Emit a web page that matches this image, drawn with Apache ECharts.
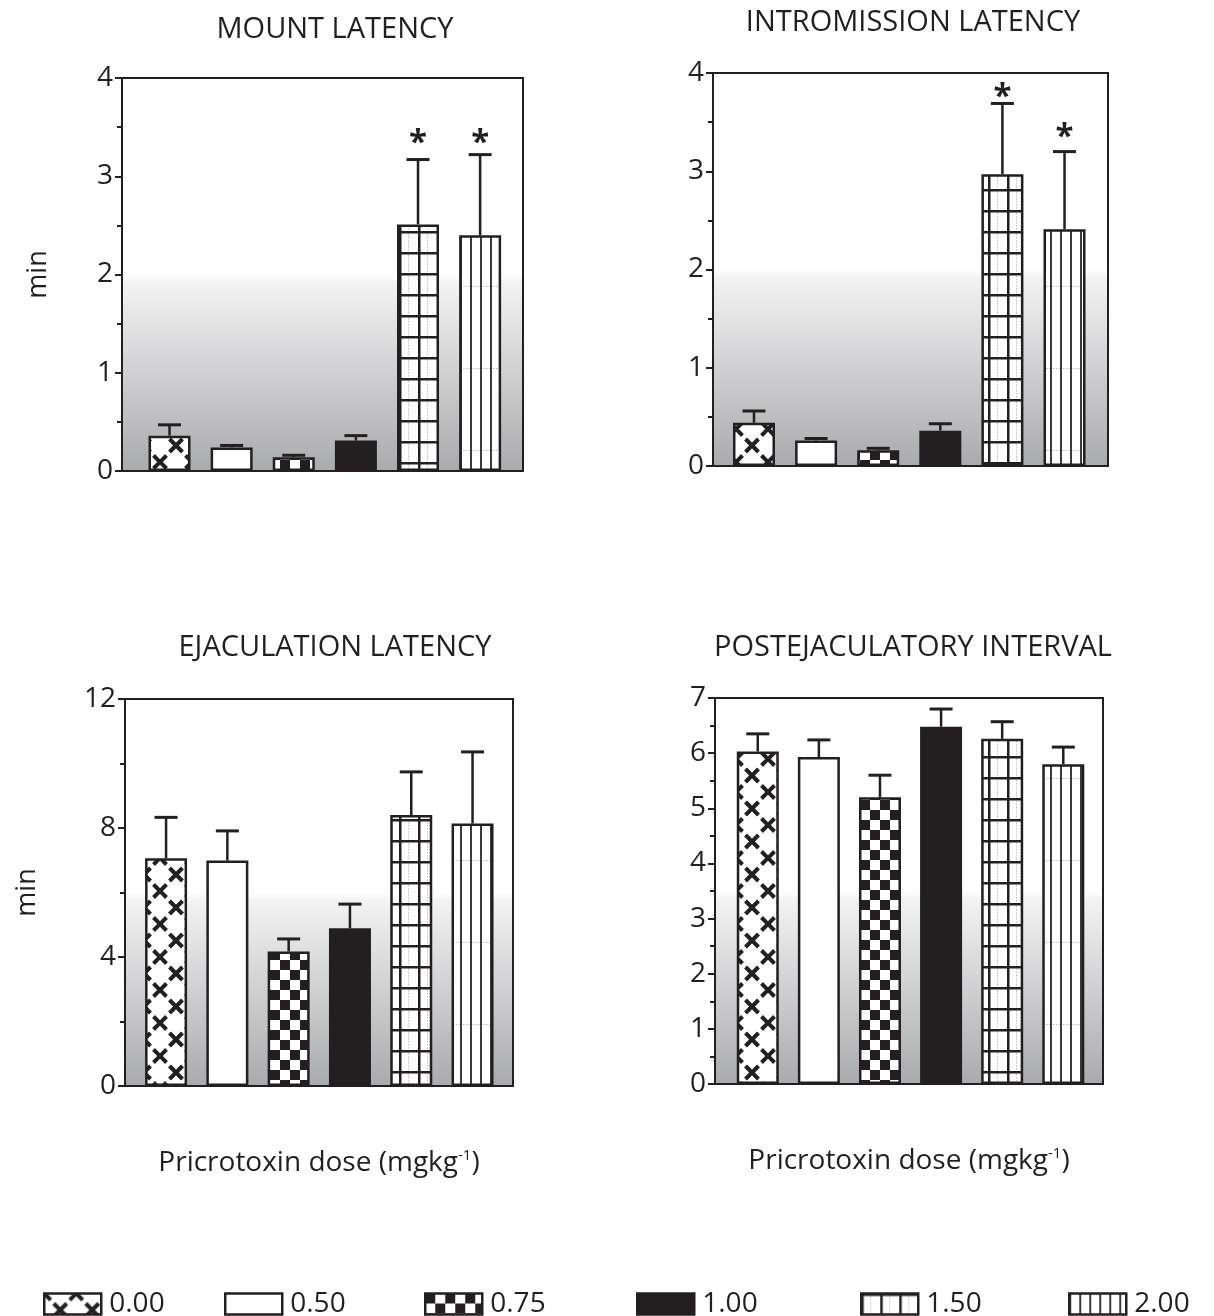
<!DOCTYPE html>
<html>
<head>
<meta charset="utf-8">
<script src="https://cdn.jsdelivr.net/npm/echarts@6.0.0/dist/echarts.min.js"></script>
<style>
  html, body { margin: 0; padding: 0; background: #fff; }
  #main { width: 1214px; height: 1316px; }
</style>
</head>
<body>
<div id="main"></div>
<script>
// picrotoxin doses (mg/kg)
var doses = ['0.00', '0.50', '0.75', '1.00', '1.50', '2.00'];

// mean latencies (min) and SEM
var mountMean = [0.36, 0.24, 0.14, 0.31, 2.51, 2.40];
var mountSem  = [0.11, 0.02, 0.02, 0.05, 0.66, 0.82];
var introMean = [0.44, 0.26, 0.16, 0.36, 2.97, 2.41];
var introSem  = [0.12, 0.02, 0.02, 0.07, 0.72, 0.79];
var ejacMean  = [7.06, 6.99, 4.17, 4.89, 8.40, 8.14];
var ejacSem   = [1.27, 0.92, 0.39, 0.75, 1.34, 2.22];
var peiMean   = [6.03, 5.93, 5.20, 6.48, 6.26, 5.80];
var peiSem    = [0.32, 0.31, 0.40, 0.32, 0.31, 0.31];

// significance marks (category index, height)
var mountStarX = [4, 5];
var mountStarY = [3.41, 3.41];
var introStarX = [4, 5];
var introStarY = [3.83, 3.42];

var INK = '#231f20';
var FONT = 'Open Sans';

function tile(w, h, draw) {
  var c = document.createElement('canvas');
  c.width = w; c.height = h;
  var ctx = c.getContext('2d');
  ctx.fillStyle = '#fff';
  ctx.fillRect(0, 0, w, h);
  draw(ctx, w, h);
  return { image: c, repeat: 'repeat' };
}

function drawX(ctx, cx, cy, r) {
  ctx.beginPath();
  ctx.moveTo(cx - r, cy - r); ctx.lineTo(cx + r, cy + r);
  ctx.moveTo(cx + r, cy - r); ctx.lineTo(cx - r, cy + r);
  ctx.stroke();
}

var patterns = [
  tile(32, 33, function (ctx, w, h) {
    ctx.strokeStyle = INK; ctx.lineWidth = 4;
    drawX(ctx, w / 2, h / 2, 6.5);
    drawX(ctx, 0, 0, 6.5); drawX(ctx, w, 0, 6.5);
    drawX(ctx, 0, h, 6.5); drawX(ctx, w, h, 6.5);
  }),
  '#ffffff',
  tile(20, 20, function (ctx) {
    ctx.fillStyle = INK;
    ctx.fillRect(0, 0, 10, 10);
    ctx.fillRect(10, 10, 10, 10);
  }),
  INK,
  tile(19, 21, function (ctx, w, h) {
    ctx.fillStyle = '#bbb';
    for (var y = 0; y < h; y += 3) ctx.fillRect(9, y, 1, 1.5);
    ctx.fillStyle = INK;
    ctx.fillRect(0, 0, 2.5, h);
    ctx.fillRect(0, 0, w, 2.5);
  }),
  tile(10, 82, function (ctx, w, h) {
    ctx.fillStyle = '#bbb';
    for (var x = 0; x < w; x += 3) ctx.fillRect(x, 40, 1.5, 1);
    ctx.fillStyle = '#3a3a3a';
    ctx.fillRect(0, 0, 2, h);
  })
];

var bgGradient = new echarts.graphic.LinearGradient(0, 0, 0, 1, [
  { offset: 0, color: '#ffffff' },
  { offset: 0.5, color: '#ffffff' },
  { offset: 0.52, color: '#f3f3f4' },
  { offset: 1, color: '#a9aaad' }
]);

var panels = [
  { title: 'MOUNT LATENCY', mean: mountMean, sem: mountSem, max: 4, interval: 1,
    grid: { left: 122, top: 78, width: 401, height: 393 }, xMin: -0.765, xMax: 5.69,
    titleX: 330, titleY: 10, yName: 'min', yNameGap: 70, xName: false,
    starX: mountStarX, starY: mountStarY },
  { title: 'INTROMISSION LATENCY', mean: introMean, sem: introSem, max: 4, interval: 1,
    grid: { left: 713, top: 73, width: 395, height: 393 }, xMin: -0.66, xMax: 5.70,
    titleX: 908, titleY: 3, yName: '', xName: false,
    starX: introStarX, starY: introStarY },
  { title: 'EJACULATION LATENCY', mean: ejacMean, sem: ejacSem, max: 12, interval: 4,
    grid: { left: 125, top: 699, width: 388, height: 387 }, xMin: -0.67, xMax: 5.66,
    titleX: 330, titleY: 628, yName: 'min', yNameGap: 84, xName: true,
    starX: [], starY: [] },
  { title: 'POSTEJACULATORY INTERVAL', mean: peiMean, sem: peiSem, max: 7, interval: 1,
    grid: { left: 715, top: 698, width: 388, height: 386 }, xMin: -0.70, xMax: 5.65,
    titleX: 908, titleY: 628, yName: '', xName: true,
    starX: [], starY: [] }
];

function makeErrRenderer(mean, sem) {
  return function (params, api) {
    var i = params.dataIndex;
    var base = api.coord([i, mean[i]]);
    var top = api.coord([i, mean[i] + sem[i]]);
    return {
      type: 'group',
      children: [
        { type: 'line', shape: { x1: base[0], y1: base[1], x2: top[0], y2: top[1] },
          style: { stroke: INK, lineWidth: 2.5 } },
        { type: 'line', shape: { x1: top[0] - 11.5, y1: top[1], x2: top[0] + 11.5, y2: top[1] },
          style: { stroke: INK, lineWidth: 3 } }
      ]
    };
  };
}

function renderStar(params, api) {
  var p = api.coord([api.value(0), api.value(1)]);
  return {
    type: 'text',
    style: { x: p[0], y: p[1] + 8, text: '*', fill: INK,
      font: 'bold 33px "' + FONT + '"', align: 'center', verticalAlign: 'middle' }
  };
}

var titles = [], grids = [], xAxes = [], yAxes = [], series = [];

panels.forEach(function (pn, p) {
  titles.push({
    text: pn.title, left: pn.titleX, top: pn.titleY, textAlign: 'center',
    textStyle: { fontFamily: FONT, fontSize: 29, fontWeight: 'normal', color: INK }
  });
  grids.push({
    left: pn.grid.left, top: pn.grid.top, width: pn.grid.width, height: pn.grid.height,
    show: true, backgroundColor: bgGradient, borderColor: INK, borderWidth: 2
  });
  xAxes.push({
    gridIndex: p, type: 'value', min: pn.xMin, max: pn.xMax,
    axisLine: { show: false, onZero: false }, axisTick: { show: false }, axisLabel: { show: false },
    splitLine: { show: false },
    name: pn.xName ? 'Pricrotoxin dose (mgkg{sup|-1})' : '',
    nameLocation: 'middle', nameGap: 62,
    nameTextStyle: {
      fontFamily: FONT, fontSize: 28, color: INK,
      rich: { sup: { fontFamily: FONT, fontSize: 15, color: INK, padding: [0, 0, 16, 0] } }
    }
  });
  yAxes.push({
    gridIndex: p, type: 'value', min: 0, max: pn.max, interval: pn.interval,
    name: pn.yName, nameLocation: 'middle', nameRotate: 90, nameGap: pn.yNameGap || 50,
    nameTextStyle: { fontFamily: FONT, fontSize: 27, color: INK },
    axisLine: { show: true, onZero: false, lineStyle: { color: INK, width: 2 } },
    axisTick: { show: true, length: 7, lineStyle: { color: INK, width: 2 } },
    minorTick: { show: true, splitNumber: 2, length: 5, lineStyle: { color: INK, width: 2 } },
    splitLine: { show: false },
    axisLabel: { fontFamily: FONT, fontSize: 28, color: INK, margin: 9 }
  });

  doses.forEach(function (d, i) {
    series.push({
      type: 'bar', name: d, xAxisIndex: p, yAxisIndex: p,
      barWidth: 42, barGap: '-100%',
      data: [[i, pn.mean[i]]],
      itemStyle: { color: patterns[i], borderColor: INK, borderWidth: 2.5 },
      emphasis: { disabled: true },
      animation: false
    });
  });

  series.push({
    type: 'custom', xAxisIndex: p, yAxisIndex: p,
    renderItem: makeErrRenderer(pn.mean, pn.sem),
    encode: { x: 0, y: 1 },
    data: pn.mean.map(function (m, i) { return [i, m + pn.sem[i]]; }),
    z: 5, animation: false, silent: true
  });

  if (pn.starX.length) {
    series.push({
      type: 'custom', xAxisIndex: p, yAxisIndex: p, renderItem: renderStar,
      encode: { x: 0, y: 1 },
      data: pn.starX.map(function (x, k) { return [x, pn.starY[k]]; }),
      z: 6, animation: false, silent: true
    });
  }
});

// one legend box per dose, spread along the bottom
var legendLeft = [43, 224, 424, 636, 860, 1068];
var legends = doses.map(function (d, i) {
  return {
    data: [d], left: legendLeft[i], top: 1290, padding: 0,
    icon: 'rect', itemWidth: 57, itemHeight: 21, selectedMode: false,
    itemStyle: { borderColor: INK, borderWidth: 2.5 },
    textStyle: { fontFamily: FONT, fontSize: 28, color: INK, padding: [4, 0, 0, 3] }
  };
});

var myChart = echarts.init(document.getElementById('main'));
myChart.setOption({
  animation: false,
  backgroundColor: '#fff',
  title: titles,
  grid: grids,
  xAxis: xAxes,
  yAxis: yAxes,
  legend: legends,
  series: series
});
</script>
</body>
</html>
